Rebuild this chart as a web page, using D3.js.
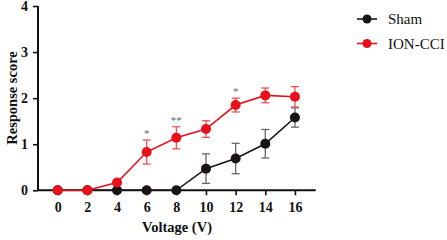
<!DOCTYPE html>
<html><head><meta charset="utf-8">
<script src="https://cdn.jsdelivr.net/npm/d3@7"></script>
<style>body{margin:0;background:#fff}svg{display:block}
svg text{font-family:"Liberation Serif","DejaVu Serif","Times New Roman",serif !important}</style>
</head><body>
<svg id="c" width="447" height="240"></svg>
<script>
const voltages = [0, 2, 4, 6, 8, 10, 12, 14, 16];
const shamMean = [0, 0, 0, 0, 0, 0.47, 0.69, 1.01, 1.58];
const shamErr  = [0, 0, 0, 0, 0, 0.32, 0.33, 0.31, 0.21];
const ccMean   = [0, 0, 0.17, 0.83, 1.14, 1.33, 1.85, 2.06, 2.03];
const ccErr    = [0, 0, 0, 0.26, 0.24, 0.18, 0.15, 0.16, 0.22];
const sigMarks = ["", "", "", "*", "**", "", "*", "", ""];
const yTicks = [0, 1, 2, 3, 4];
const seriesNames = ["Sham", "ION-CCI"];

const svg = d3.select("#c");
const x = d3.scaleLinear().domain([-1.33, 17.4]).range([38, 315.7]);
const y = d3.scaleLinear().domain([0, 4]).range([190.3, 6]);

// axes
const xAxis = svg.append("g").attr("transform", `translate(0,${y(0)})`)
  .call(d3.axisBottom(x).tickValues(voltages).tickSize(5).tickPadding(7).tickFormat(d3.format("d")));
const yAxis = svg.append("g").attr("transform", `translate(${x.range()[0]},0)`)
  .call(d3.axisLeft(y).tickValues(yTicks).tickSize(5).tickPadding(5).tickFormat(d3.format("d")));
[xAxis, yAxis].forEach(a => {
  a.attr("font-family", null);
  a.select(".domain").attr("stroke", "#111").attr("stroke-width", 2);
  a.selectAll(".tick line").attr("stroke", "#111").attr("stroke-width", 1.6);
  a.selectAll("text").attr("font-weight", "bold")
    .attr("font-size", 14).attr("fill", "#111");
});
xAxis.select(".domain").attr("d", `M${x.range()[0]},0H${x.range()[1]}`);
yAxis.select(".domain").attr("d", `M0,${y.range()[0]}V${y.range()[1]}`);

// titles
svg.append("text").attr("x", 177).attr("y", 232).attr("text-anchor", "middle")
  .attr("font-weight", "bold").attr("font-size", 14.5)
  .attr("fill", "#111").text("Voltage (V)");
svg.append("text").attr("transform", "translate(17,98) rotate(-90)").attr("text-anchor", "middle")
  .attr("font-weight", "bold").attr("font-size", 14.5)
  .attr("fill", "#111").text("Response score");

function drawSeries(means, errs, color, errColor) {
  const g = svg.append("g");
  const pts = voltages.map((v, i) => ({v, m: means[i], e: errs[i]}));
  pts.filter(d => d.e > 0).forEach(d => {
    g.append("line").attr("x1", x(d.v)).attr("x2", x(d.v))
      .attr("y1", y(d.m - d.e)).attr("y2", y(d.m + d.e))
      .attr("stroke", errColor).attr("stroke-width", 1.3);
    [d.m - d.e, d.m + d.e].forEach(val => {
      g.append("line").attr("x1", x(d.v) - 4).attr("x2", x(d.v) + 4)
        .attr("y1", y(val)).attr("y2", y(val))
        .attr("stroke", errColor).attr("stroke-width", 1.3);
    });
  });
  g.append("path").datum(pts)
    .attr("d", d3.line().x(d => x(d.v)).y(d => y(d.m)))
    .attr("fill", "none").attr("stroke", color).attr("stroke-width", 1.6);
  g.selectAll("circle").data(pts).join("circle")
    .attr("cx", d => x(d.v)).attr("cy", d => y(d.m)).attr("r", 5)
    .attr("fill", color);
}
drawSeries(shamMean, shamErr, "#1a1414", "#666");
drawSeries(ccMean, ccErr, "#e8101a", "#f05050");

// significance
voltages.forEach((v, i) => {
  if (!sigMarks[i]) return;
  svg.append("text").attr("x", x(v)).attr("y", y(ccMean[i] + ccErr[i]) - 3)
    .attr("text-anchor", "middle").attr("font-size", 11)
    .attr("fill", "#666").text(sigMarks[i]);
});

// legend
const legColors = ["#1a1414", "#e8101a"];
seriesNames.forEach((name, i) => {
  const ly = 19 + i * 24.5;
  svg.append("line").attr("x1", 357).attr("x2", 377).attr("y1", ly).attr("y2", ly)
    .attr("stroke", legColors[i]).attr("stroke-width", 1.6);
  svg.append("circle").attr("cx", 367).attr("cy", ly).attr("r", 4.5).attr("fill", legColors[i]);
  svg.append("text").attr("x", 388).attr("y", ly).attr("dy", "0.35em")
    .attr("font-size", 15).attr("fill", "#111").text(name);
});
</script>
</body></html>
